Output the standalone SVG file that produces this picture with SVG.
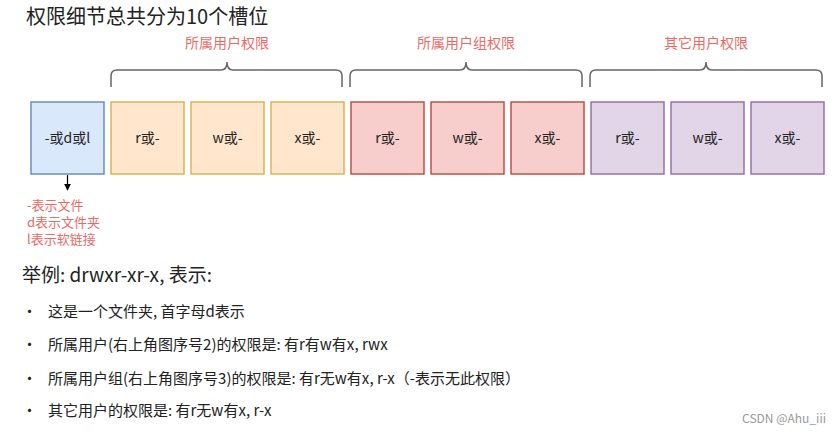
<svg xmlns="http://www.w3.org/2000/svg" width="836" height="434" viewBox="0 0 836 434">
<style>
text{font-family:"Noto Sans CJK SC","Noto Sans",sans-serif}
.b{stroke-width:1.5}
.u{fill:#dae8fc;stroke:#6c8ebf}
.o{fill:#ffe6cc;stroke:#d6b656}
.r{fill:#f8cecc;stroke:#b85450}
.p{fill:#e1d5e7;stroke:#9673a6}
.t{font-size:14px;fill:#222;text-anchor:middle}
.lab{font-size:14px;fill:#ea6b66;text-anchor:middle}
.br{fill:none;stroke:#666;stroke-width:1.5}
.li{font-size:15px;fill:#222}
</style>
<defs><marker id="a" viewBox="0 0 10 10" refX="9" refY="5" markerWidth="6" markerHeight="6" orient="auto"><path d="M0 0L10 5L0 10z" fill="#000"/></marker></defs>
<rect width="836" height="434" fill="#fff"/>
<text x="26" y="24" font-size="20" fill="#222">权限细节总共分为10个槽位</text>
<g id="braces">
<text class="lab" x="227" y="48">所属用户权限</text>
<path class="br" d="M111 87V76Q111 70 117 70H221Q227 70 227 62Q227 70 233 70H336Q342 70 342 76V87"/>
<text class="lab" x="466" y="48">所属用户组权限</text>
<path class="br" d="M350 87V76Q350 70 356 70H460Q466 70 466 62Q466 70 472 70H576Q582 70 582 76V87"/>
<text class="lab" x="706" y="48">其它用户权限</text>
<path class="br" d="M590 87V76Q590 70 596 70H700Q706 70 706 62Q706 70 712 70H816Q822 70 822 76V87"/>
</g>
<g id="n0"><rect class="b u" x="31" y="102" width="73" height="72"/><text class="t" x="67.5" y="143">-或d或l</text></g>
<g id="n1"><rect class="b o" x="111" y="102" width="73" height="72"/><text class="t" x="147.5" y="143">r或-</text></g>
<g id="n2"><rect class="b o" x="191" y="102" width="73" height="72"/><text class="t" x="227.5" y="143">w或-</text></g>
<g id="n3"><rect class="b o" x="271" y="102" width="73" height="72"/><text class="t" x="307.5" y="143">x或-</text></g>
<g id="n4"><rect class="b r" x="351" y="102" width="73" height="72"/><text class="t" x="387.5" y="143">r或-</text></g>
<g id="n5"><rect class="b r" x="431" y="102" width="73" height="72"/><text class="t" x="467.5" y="143">w或-</text></g>
<g id="n6"><rect class="b r" x="511" y="102" width="73" height="72"/><text class="t" x="547.5" y="143">x或-</text></g>
<g id="n7"><rect class="b p" x="591" y="102" width="73" height="72"/><text class="t" x="627.5" y="143">r或-</text></g>
<g id="n8"><rect class="b p" x="671" y="102" width="73" height="72"/><text class="t" x="707.5" y="143">w或-</text></g>
<g id="n9"><rect class="b p" x="751" y="102" width="73" height="72"/><text class="t" x="787.5" y="143">x或-</text></g>
<g id="connectors"><line x1="67.5" y1="175" x2="67.5" y2="190" stroke="#000" stroke-width="1.2" marker-end="url(#a)"/></g>
<g id="note" font-size="13" fill="#ea6b66">
<text x="27" y="210">-表示文件</text>
<text x="27" y="227">d表示文件夹</text>
<text x="27" y="244">l表示软链接</text>
</g>
<text x="22" y="282" font-size="19" fill="#222">举例: drwxr-xr-x, 表示:</text>
<g class="li">
<text x="22" y="317">•</text><text x="48" y="317" class="li">这是一个文件夹, 首字母d表示</text>
<text x="22" y="350">•</text><text x="48" y="350" class="li">所属用户(右上角图序号2)的权限是: 有r有w有x, rwx</text>
<text x="22" y="384">•</text><text x="48" y="384" class="li">所属用户组(右上角图序号3)的权限是: 有r无w有x, r-x（-表示无此权限）</text>
<text x="22" y="416">•</text><text x="48" y="416" class="li">其它用户的权限是: 有r无w有x, r-x</text>
</g>
<text x="826" y="423" font-size="12" fill="#999" text-anchor="end" font-family="Liberation Sans,sans-serif">CSDN @Ahu_iii</text>
</svg>
